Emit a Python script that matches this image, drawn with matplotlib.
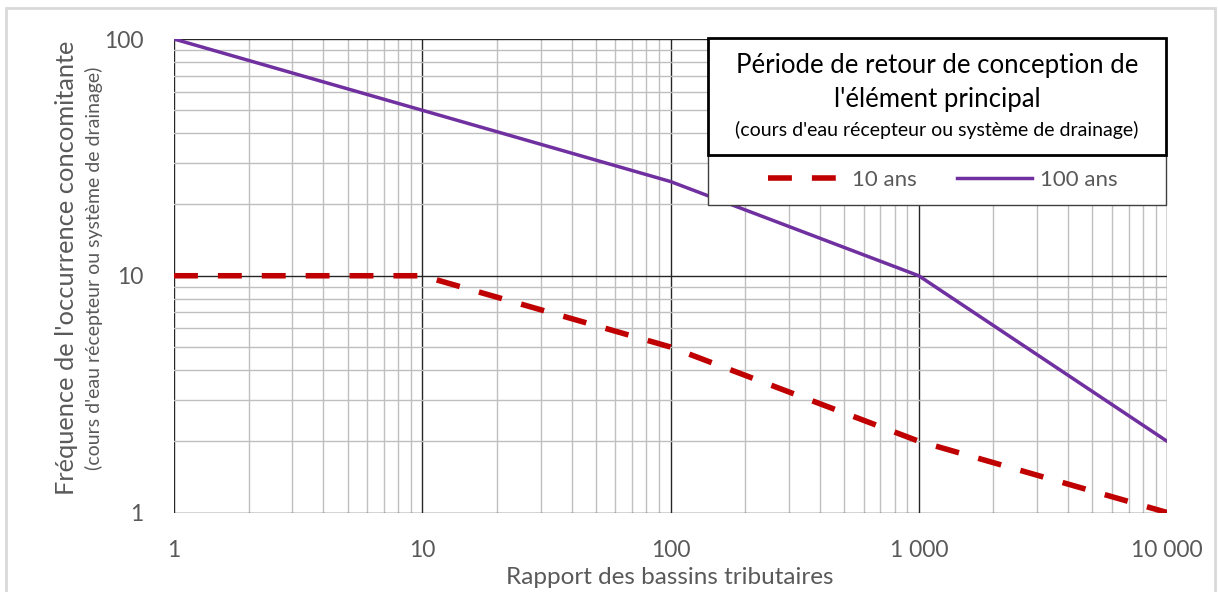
import matplotlib.pyplot as plt
from matplotlib.patches import Rectangle
from matplotlib.ticker import FixedLocator, LogLocator, NullFormatter

plt.rcParams['font.family'] = ['Lato', 'DejaVu Sans']

# donnees
rapport = [1, 10, 100, 1000, 10000]
freq_10ans = [10, 10, 5, 2, 1]
freq_100ans = [100, 50, 25, 10, 2]
xticks = [1, 10, 100, 1000, 10000]
xlabels = ["1", "10", "100", "1 000", "10 000"]
yticks = [1, 10, 100]
ylabels = ["1", "10", "100"]

gris = "#595959"

fig = plt.figure(figsize=(12.18, 5.92), dpi=100)
ax = fig.add_axes([174/1218, 1-512.5/592, (1167-174)/1218, (512.5-39)/592])

# cadre gris clair autour de la figure
fig.patches.append(Rectangle((6/1218, -0.1), (1215-6)/1218, 1.1-8/592,
                             transform=fig.transFigure, fill=False,
                             edgecolor="#D9D9D9", lw=2, zorder=0))

l10, = ax.plot(rapport, freq_10ans, color="#C00000", lw=4, dashes=(4.3, 3.6),
               label="10 ans", zorder=5)
l100, = ax.plot(rapport, freq_100ans, color="#7030A0", lw=2.5, label="100 ans",
                zorder=6)

ax.set_xscale("log")
ax.set_yscale("log")
ax.set_xlim(1, 10000)
ax.set_ylim(1, 100)

ax.xaxis.set_major_locator(FixedLocator(xticks))
ax.set_xticklabels(xlabels)
ax.yaxis.set_major_locator(FixedLocator(yticks))
ax.set_yticklabels(ylabels)
ax.xaxis.set_minor_locator(LogLocator(base=10, subs=range(2, 10), numticks=20))
ax.yaxis.set_minor_locator(LogLocator(base=10, subs=range(2, 10), numticks=20))
ax.xaxis.set_minor_formatter(NullFormatter())
ax.yaxis.set_minor_formatter(NullFormatter())

ax.grid(which="major", color="#262626", lw=1)
ax.grid(which="minor", color="#BFBFBF", lw=1)
ax.set_axisbelow(True)
ax.tick_params(which="both", length=0)
ax.tick_params(axis="x", pad=20, labelsize=16.5, labelcolor=gris)
ax.tick_params(axis="y", pad=22, labelsize=16.5, labelcolor=gris)
for s in ax.spines.values():
    s.set_visible(False)

fig.text(670/1218, 1-577/592, "Rapport des bassins tributaires", ha="center",
         va="center", fontsize=17.5, color=gris)
fig.text(67/1218, 1-268/592, "Fréquence de l'occurrence concomitante",
         rotation=90, ha="center", va="center", fontsize=18.3, color=gris)
fig.text(94/1218, 1-268/592, "(cours d'eau récepteur ou système de drainage)",
         rotation=90, ha="center", va="center", fontsize=14, color=gris)

# boite du titre de la legende
fig.patches.append(Rectangle((708/1218, 1-155/592), (1166-708)/1218, (155-38)/592,
                             transform=fig.transFigure, facecolor="white",
                             edgecolor="black", lw=2, zorder=10))
fig.text(937/1218, 1-66/592, "Période de retour de conception de", ha="center",
         va="center", fontsize=18.5, color="black", zorder=11)
fig.text(937/1218, 1-100/592, "l'élément principal", ha="center",
         va="center", fontsize=18.5, color="black", zorder=11)
fig.text(937/1218, 1-130/592, "(cours d'eau récepteur ou système de drainage)",
         ha="center", va="center", fontsize=14, color="black", zorder=11)

# boite des entrees de la legende
fig.patches.append(Rectangle((708/1218, 1-205/592), (1166-708)/1218, 50/592,
                             transform=fig.transFigure, facecolor="white",
                             edgecolor="#404040", lw=1, zorder=9))

leg = fig.legend([l10, l100], ["10 ans", "100 ans"], loc="center", ncol=2,
                 frameon=False, bbox_to_anchor=(943/1218, 1-180/592),
                 fontsize=16, handlelength=3.4, handletextpad=0.35,
                 columnspacing=1.8, borderaxespad=0)
for t in leg.get_texts():
    t.set_color(gris)
leg.set_zorder(12)

fig.savefig("out.png", dpi=100)
